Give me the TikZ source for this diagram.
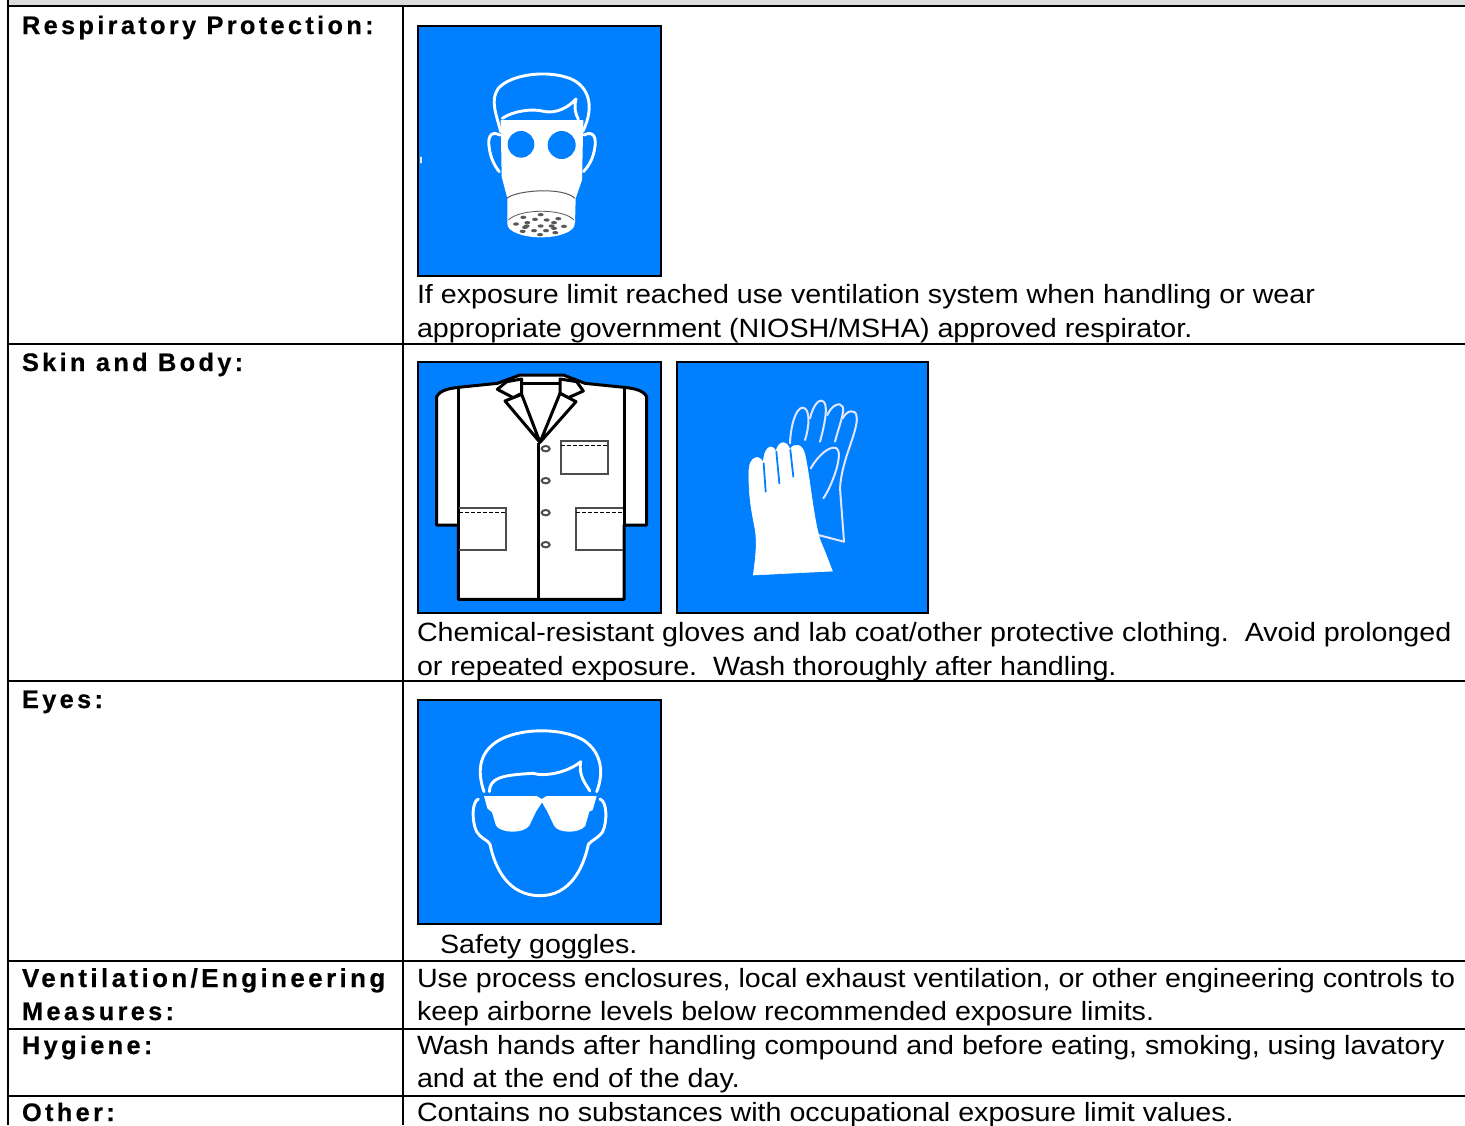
\documentclass[tikz,border=0pt]{standalone}
\usepackage{fontspec}
\setmainfont[FakeStretch=1.085]{Liberation Sans}
\newfontfamily\lblfont[LetterSpace=13,FakeBold=0.4]{Liberation Sans Bold}
\definecolor{iconblue}{HTML}{0080FF}
\definecolor{headgray}{HTML}{DCDCDC}
\tikzset{
 rule/.style={line width=1pt,black},
 bodytext/.style={anchor=base west,inner sep=0pt,outer sep=0pt,font=\fontsize{13.2}{13}\selectfont},
 labeltext/.style={anchor=base west,inner sep=0pt,outer sep=0pt,font=\fontsize{12.7}{13}\lblfont},
 iconbox/.style={fill=iconblue,draw=black,line width=1pt},
 wline/.style={draw=white,line width=1.45pt,line cap=round,line join=round},
 wthin/.style={draw=white!90!blue,line width=1pt,line cap=round,line join=round},
 kline/.style={draw=black,line width=1.5pt,line join=round},
 kthin/.style={draw=black!70,line width=1pt},
 kdash/.style={draw=black,line width=.5pt,dash pattern=on 2pt off 1pt},
 gsep/.style={draw=iconblue,line width=.9pt,line cap=round},
}
\begin{document}
\begin{tikzpicture}[x=.5pt,y=-.5pt]
\useasboundingbox (0,0) rectangle (1465,1125);
\fill[headgray] (8,0) rectangle (1465,6);
\draw[rule] (8,0) -- (8,1125);
\draw[rule] (403,6) -- (403,1125);
\foreach \yy in {6,344,681,961,1029,1096} \draw[rule] (8,\yy) -- (1465,\yy);
% labels
\node[labeltext] (l1) at (22,34) {Respiratory Protection:};
\node[labeltext] (l2) at (22,371) {Skin and Body:};
\node[labeltext] (l3) at (22,708) {Eyes:};
\node[labeltext,font=\fontsize{13}{13}\lblfont] (l4) at (22,987) {Ventilation/Engineering};
\node[labeltext] (l4b) at (22,1020) {Measures:};
\node[labeltext] (l5) at (22,1054) {Hygiene:};
\node[labeltext] (l6) at (22,1121) {Other:};
% text
\node[bodytext] (t1) at (417,303) {If exposure limit reached use ventilation system when handling or wear};
\node[bodytext] (t1b) at (417,337) {appropriate government (NIOSH/MSHA) approved respirator.};
\node[bodytext] (t2) at (417,641) {Chemical-resistant gloves and lab coat/other protective clothing.\ \ Avoid prolonged};
\node[bodytext] (t2b) at (417,675) {or repeated exposure.\ \ Wash thoroughly after handling.};
\node[bodytext] (t3) at (440,953) {Safety goggles.};
\node[bodytext] (t4) at (417,987) {Use process enclosures, local exhaust ventilation, or other engineering controls to};
\node[bodytext] (t4b) at (417,1020) {keep airborne levels below recommended exposure limits.};
\node[bodytext] (t5) at (417,1054) {Wash hands after handling compound and before eating, smoking, using lavatory};
\node[bodytext] (t5b) at (417,1087) {and at the end of the day.};
\node[bodytext] (t6) at (417,1121) {Contains no substances with occupational exposure limit values.};
% respirator icon
\begin{scope}[shift={(205pt,-10pt)},x=.16667pt,y=-.16667pt]
\draw[iconbox] (24,17) rectangle (752,768);
\draw[wthin] (32,412) -- (32,428);
\draw[wline] (272,335) .. controls (258,280) and (240,240) .. (265,205) .. controls (300,165) and (400,150) .. (470,172) .. controls (530,190) and (560,250) .. (518,335);
\draw[wline] (277,295) .. controls (310,272) and (370,265) .. (400,274) .. controls (440,282) and (475,262) .. (498,237) .. controls (492,260) and (495,280) .. (505,298);
\draw[wline] (270,345) .. controls (240,330) and (232,355) .. (238,385) .. controls (242,415) and (255,440) .. (268,455);
\draw[wline] (522,345) .. controls (552,330) and (560,355) .. (554,385) .. controls (550,415) and (535,440) .. (520,455);
\fill[white] (272,300) -- (520,300) -- (516,480) -- (497,535) -- (495,610) -- (292,610) -- (292,535) -- (275,470) -- cycle;
\fill[white] (393,612) ellipse[x radius=101,y radius=40];
\fill[iconblue] (333,373) circle[radius=40];
\fill[iconblue] (455,375) circle[radius=42];
\draw[draw=black!65,line width=.5pt] (290,535) .. controls (320,510) and (460,500) .. (495,535);
\draw[draw=black!65,line width=.4pt] (295,600) .. controls (330,565) and (460,565) .. (492,600);
\foreach \px/\py in {318/612,340/592,352/608,375/598,392/584,410/600,445/596,432/608,462/619,345/622,372/632,392/618,408/632,432/625,338/634,390/644,436/638,350/618,425/618}
  \fill[black!65] (\px,\py) ellipse[x radius=9,y radius=5];
\end{scope}
% coat icon
\begin{scope}[shift={(205pt,-177.5pt)},x=.16667pt,y=-.16667pt]
\draw[iconbox] (24,22) rectangle (752,775);
\draw[kline,fill=white] (80,510) -- (80,125) .. controls (90,105) and (120,100) .. (145,97) -- (262,85) -- (330,60) -- (460,60) -- (525,85) -- (642,97) .. controls (670,100) and (700,105) .. (710,125) -- (710,510) -- (642,510) -- (642,733) -- (145,733) -- (145,510) -- cycle;
\draw[kline] (145,97) -- (145,510);
\draw[kline] (642,97) -- (642,510);
\draw[kline,fill=white] (262,103) -- (290,80) -- (335,72) -- (335,115) -- (310,128) -- cycle;
\draw[kline,fill=white] (520,108) -- (500,80) -- (450,72) -- (450,115) -- (475,128) -- cycle;
\draw[kline] (338,85) -- (450,85);
\draw[kline,fill=white] (285,138) -- (335,118) -- (390,262) -- cycle;
\draw[kline,fill=white] (498,140) -- (450,115) -- (390,262) -- cycle;
\draw[kline] (385,265) -- (385,733);
\foreach \by in {281,377,473,569}
  \draw[kthin,fill=white] (407,\by) ellipse[x radius=12,y radius=8];
\draw[kthin] (452,257) rectangle (595,357);
\draw[kdash] (452,271) -- (595,271);
\draw[kthin] (147,459) -- (287,459) -- (287,586) -- (147,586);
\draw[kdash] (147,473) -- (287,473);
\draw[kthin] (640,459) -- (498,459) -- (498,586) -- (640,586);
\draw[kdash] (498,473) -- (640,473);
\end{scope}
% gloves icon
\begin{scope}[shift={(335pt,-177.5pt)},x=.16667pt,y=-.16667pt]
\draw[iconbox] (21,22) rectangle (775,773);
\draw[wthin] (360,265) .. controls (362,210) and (378,158) .. (398,158) .. controls (422,160) and (418,215) .. (405,255);
\draw[wthin] (420,190) .. controls (430,150) and (445,135) .. (455,137) .. controls (478,140) and (465,205) .. (450,260);
\draw[wthin] (472,180) .. controls (485,150) and (510,140) .. (518,155) .. controls (525,170) and (505,220) .. (495,260);
\draw[wthin] (518,190) .. controls (530,165) and (558,160) .. (560,185) .. controls (565,230) and (515,310) .. (510,400) -- (522,560) -- (445,540);
\draw[wthin] (422,340) .. controls (445,300) and (480,270) .. (500,280) .. controls (520,295) and (490,385) .. (460,430);
\fill[white,draw=white,line width=.3pt] (250,660) .. controls (258,600) and (262,560) .. (255,520) .. controls (245,470) and (235,420) .. (237,345) .. controls (238,305) and (270,295) .. (280,325) .. controls (280,280) and (305,260) .. (318,290) .. controls (325,255) and (352,255) .. (360,285) .. controls (370,262) and (398,265) .. (405,300) .. controls (420,370) and (430,490) .. (450,555) .. controls (465,590) and (478,625) .. (487,648) -- cycle;
\draw[gsep] (281,325) -- (287,410);
\draw[gsep] (319,290) -- (328,385);
\draw[gsep] (361,285) -- (370,365);
\end{scope}
% goggles icon
\begin{scope}[shift={(205pt,-347.5pt)},x=.16667pt,y=-.16667pt]
\draw[iconbox] (24,14) rectangle (752,688);
\draw[wline] (222,290) .. controls (205,240) and (200,180) .. (260,140) .. controls (320,100) and (450,95) .. (520,135) .. controls (580,175) and (580,240) .. (560,290);
\draw[wline] (238,290) .. controls (240,250) and (270,240) .. (370,235) .. controls (400,245) and (470,235) .. (512,200) .. controls (505,240) and (525,265) .. (540,288);
\draw[wline] (205,312) .. controls (185,320) and (185,380) .. (200,410) .. controls (210,430) and (235,435) .. (240,448) .. controls (255,520) and (295,602) .. (390,602) .. controls (480,602) and (520,520) .. (535,448) .. controls (545,435) and (565,430) .. (578,410) .. controls (592,380) and (592,320) .. (570,312);
\fill[white] (222,303) -- (380,303) -- (395,312) -- (410,303) -- (560,303) -- (548,345) -- (538,350) -- (526,392) .. controls (510,416) and (445,416) .. (432,392) -- (412,350) -- (396,322) -- (378,350) -- (358,392) .. controls (340,416) and (275,416) .. (258,392) -- (246,352) -- (232,340) -- cycle;
\end{scope}
\end{tikzpicture}
\end{document}
